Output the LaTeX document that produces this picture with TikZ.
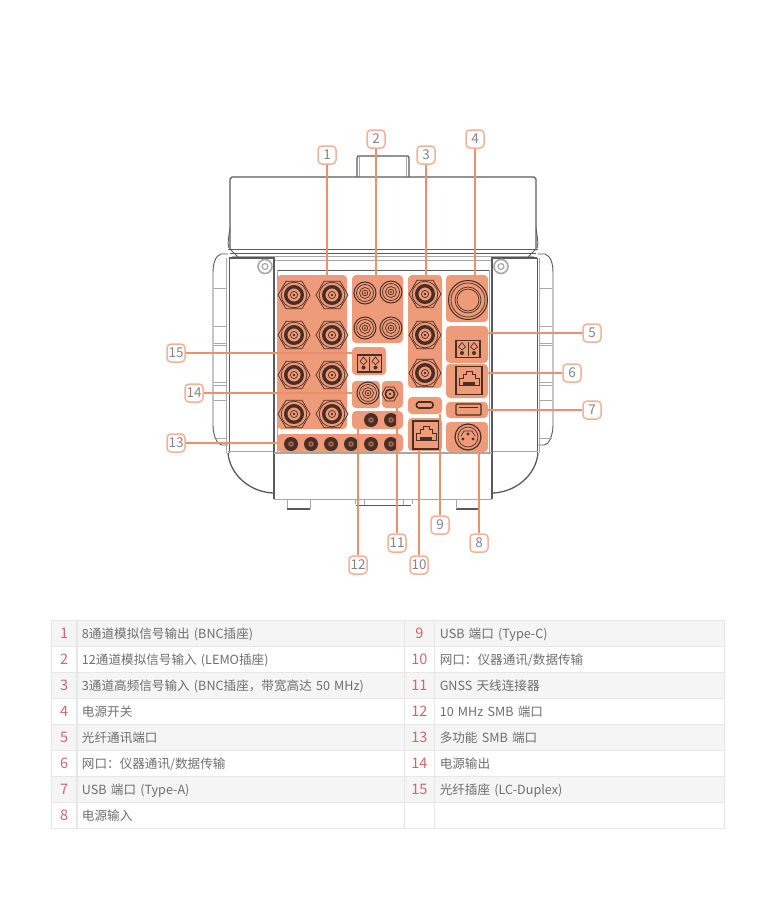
\documentclass[tikz,border=0pt]{standalone}
\usepackage{fontspec}
\setmainfont{Noto Sans CJK SC}
\usetikzlibrary{matrix}

\definecolor{blockfill}{HTML}{EE9B7A}
\definecolor{leadline}{HTML}{EC8F6B}
\definecolor{calloutline}{HTML}{F2B295}
\definecolor{portdark}{HTML}{4A2E25}
\definecolor{bodyline}{HTML}{5A5A5A}
\definecolor{softline}{HTML}{A8A8A8}
\definecolor{rowgray}{HTML}{F5F5F5}
\definecolor{tableline}{HTML}{E6E6E6}
\definecolor{tabletext}{HTML}{6E6E6E}
\definecolor{numred}{HTML}{CC6670}

\tikzset{
  block/.style={fill=blockfill, rounded corners=4pt, inner sep=0pt},
  lead/.style={draw=leadline, line width=1.2pt},
  callout/.style={draw=calloutline, line width=1.5pt, fill=white, rounded corners=4pt, minimum size=18pt, inner sep=0pt, text=tabletext!85, font=\fontsize{13.5}{14}\selectfont},
  body/.style={draw=bodyline, line width=0.9pt},
  bodythick/.style={draw=bodyline, line width=1.3pt},
  soft/.style={draw=softline, line width=0.8pt},
  port/.style={draw=portdark, line width=0.7pt},
  bnc/.pic={
    \draw[port] (16,0) -- (8,-13.8) -- (-8,-13.8) -- (-16,0) -- (-8,13.8) -- (8,13.8) -- cycle;
    \draw[port] (0,0) circle (12.8);
    \draw[port, line width=3.4pt] (0,0) circle (8.3);
    \draw[port] (0,0) circle (3.6);
    \fill[portdark] (0,0) circle (1.4);
  },
  lemo/.pic={
    \draw[port, line width=1pt] (0,0) circle (11);
    \draw[port] (0,0) circle (8.5);
    \draw[port] (0,0) circle (5.5);
    \draw[port] (0,0) circle (2.8);
    \fill[portdark] (0,0) circle (1);
  },
  smb/.pic={
    \fill[portdark] (0,0) circle (7);
    \fill[blockfill!55!portdark] (0,0) circle (2.8);
    \fill[portdark] (0,0) circle (1.2);
  },
  lcplug/.pic={
    \draw[port, line width=1.2pt] (-12,-8.5) rectangle (12,8.5);
    \draw[port] (-6,-6.5) -- (-9.5,-2) -- (-6,1) -- (-2.5,-2) -- cycle;
    \draw[port] (6,-6.5) -- (9.5,-2) -- (6,1) -- (2.5,-2) -- cycle;
    \draw[port] (0,-7) -- (0,7);
    \fill[portdark] (-6,4) circle (2) (6,4) circle (2);
  },
  rjplug/.pic={
    \draw[port, line width=1.1pt] (-13,-14) rectangle (13,14);
    \draw[port] (-10,5) -- (-10,-2) -- (-6,-2) -- (-6,-6) -- (-3,-6) -- (-3,-9) -- (3,-9) -- (3,-6) -- (6,-6) -- (6,-2) -- (10,-2) -- (10,5) -- cycle;
    \fill[portdark] (-6,1.5) rectangle (6,5);
  },
  flank/.pic={
    % side handle
    \draw[body] (228,254) -- (221,254) .. controls (215,256) and (213,264) .. (213,273) -- (213,425) .. controls (213,435) and (217,445) .. (222,445) -- (228,445);
    \foreach \ty in {288,326,343,345,382,385,400,438}
      \draw[soft] (214,\ty) -- (227,\ty);
    % body side and corner
    \draw[body] (229,258) -- (229,453);
    \draw[soft] (226.5,258) -- (226.5,453);
    \draw[soft] (228,451.5) -- (273,451.5);
    \draw[bodythick] (228,453) .. controls (230,475) and (250,492) .. (273,493);
    \draw[bodythick] (229,258) -- (274,258) -- (274,499);
    \draw[soft] (277,270) -- (277,453);
    % lid corner
    \draw[body] (230,249) -- (238,257);
    \draw[body] (229,248) .. controls (227,243) and (229,236) .. (230,228);
    % screw
    \draw[draw=softline, line width=1.6pt, fill=white] (265,266.5) circle (7);
    \draw[draw=softline, line width=1.2pt] (265,266.5) circle (3);
    % foot
    \draw[soft] (287,499) -- (287,509);
    \draw[bodythick] (287,509) -- (310,509);
    \draw[soft] (310,499) -- (310,509);
  },
}

\begin{document}
\begin{tikzpicture}[x=1pt,y=-1pt,
  array/.style={matrix of nodes, inner sep=0pt, nodes in empty cells, column sep=-\pgflinewidth, row sep=-\pgflinewidth,
    nodes={draw=tableline, line width=0.8pt, minimum height=25.6pt, text height=10pt, text depth=0pt, inner ysep=0pt, text=tabletext, font=\fontsize{12.6}{14}\selectfont},
    column 1/.style={nodes={minimum width=25pt, inner xsep=0pt, text=numred, font=\fontsize{14.5}{15}\selectfont}},
    column 2/.style={nodes={text width=317pt, inner xsep=5pt, align=left}},
    column 3/.style={nodes={minimum width=30pt, inner xsep=0pt, text=numred, font=\fontsize{14.5}{15}\selectfont}},
    column 4/.style={nodes={text width=280pt, inner xsep=5pt, align=left}},
    row 1/.style={nodes={fill=rowgray}},
    row 3/.style={nodes={fill=rowgray}},
    row 5/.style={nodes={fill=rowgray}},
    row 7/.style={nodes={fill=rowgray}},
}]
\useasboundingbox (0,0) rectangle (775,900);

% instrument body
\draw[bodythick] (357,177) -- (357,158) -- (358,156) -- (408,156) -- (409,158) -- (409,177);
\draw[soft] (359.5,157) -- (359.5,177) (406.5,157) -- (406.5,177);
\draw[bodythick] (230,249) -- (230,179) -- (232,177) -- (534,177) -- (536,179) -- (536,249);
\draw[body] (228,249) -- (538,249);
\draw[body] (230,253) -- (536,253);
\draw[soft] (232,256) -- (534,256);
\draw[soft] (274,260.5) -- (492,260.5);
\draw[body] (277,270) -- (489,270);
\pic at (0,0) {flank};
\pic[xscale=-1] at (766,0) {flank};
\draw[soft, line width=1.4pt] (274,453) -- (492,453);
\draw[soft] (274,499) -- (492,499);
\draw[soft] (355,499) -- (355,504) (412,499) -- (412,504);
\draw[bodythick] (356,505.5) -- (411,505.5);
\draw[soft] (364,499) -- (364,505) (403,499) -- (403,505);

% orange groups
\node[block, minimum width=70pt, minimum height=154pt] (b1) at (312,352) {};
\node[block, minimum width=51pt, minimum height=68pt] (b2) at (377.5,309) {};
\node[block, minimum width=34pt, minimum height=113pt] (b3) at (425,331.5) {};
\node[block, minimum width=42pt, minimum height=47pt] (b4) at (467,298.5) {};
\node[block, minimum width=42pt, minimum height=37pt] (b5) at (467,344.5) {};
\node[block, minimum width=42pt, minimum height=34pt] (b6) at (467,381) {};
\node[block, minimum width=42pt, minimum height=16pt] (b7) at (467,410) {};
\node[block, minimum width=42pt, minimum height=30pt] (b8) at (467,437) {};
\node[block, minimum width=34pt, minimum height=17pt] (b9) at (425,405.5) {};
\node[block, minimum width=34pt, minimum height=33pt] (b10) at (425,434.5) {};
\node[block, minimum width=21pt, minimum height=27pt] (b11) at (392.5,394.5) {};
\node[block, minimum width=51pt, minimum height=18pt] (b12) at (377.5,420) {};
\node[block, minimum width=126pt, minimum height=18pt] (b13) at (340,443) {};
\node[block, minimum width=28pt, minimum height=27pt] (b14) at (366,394.5) {};
\node[block, minimum width=34pt, minimum height=28pt] (b15) at (369,361) {};

% ports
\foreach \px in {294,332}
  \foreach \py in {295,335,375,414}
    \pic at (\px,\py) {bnc};
\foreach \py in {294,335,373}
  \pic at (425,\py) {bnc};
\foreach \px/\py in {365/293,391/292,365/328,391/328,368/393}
  \pic at (\px,\py) {lemo};
\foreach \px in {291,311,331,351,371,391}
  \pic at (\px,444) {smb};
\pic at (371,420) {smb};
\pic at (391,420) {smb};
% 11 top connector
\draw[port] (398,394) -- (394,387) -- (386,387) -- (382,394) -- (386,401) -- (394,401) -- cycle;
\draw[port, line width=1.6pt] (390,394) circle (4.6);
\fill[portdark] (390,394) circle (1.4);
% power switch
\draw[port, line width=1pt] (468,300) circle (19.5);
\draw[port] (468,300) circle (17);
\draw[port] (468,300) circle (13);
\draw[port] (468,300) circle (11);
\pic at (468,349) {lcplug};
\pic at (369.5,363.5) {lcplug};
\pic at (469,380.5) {rjplug};
\pic at (426,435) {rjplug};
% usb
\draw[port, line width=1.1pt, rounded corners=1pt] (456,404) rectangle (481,415);
\draw[port] (459,407.5) -- (478,407.5);
\draw[port, line width=1.6pt, rounded corners=2.5pt] (416.5,402) rectangle (433,408);
% power input
\draw[port, line width=1.2pt] (468,437) circle (13);
\draw[port] (468,437) circle (10);
\draw[port] (461,436) -- (464,431) -- (472,431) -- (475,436);
\fill[portdark] (463,439) circle (1.6) (473,439) circle (1.6) (468,434) circle (1.6);

% callouts
\foreach \num/\cx/\cy in {1/327/155,2/376/139,3/426/155,4/475/139,5/592/333,6/572/373,7/592/410,8/479/543,9/440/525,10/419/565,11/397/543,12/358/565,13/176/443,14/194/393,15/176/353}
  \node[callout] (n\num) at (\cx,\cy) {\num};

\draw[lead] (n1) -- (n1 |- b1.north);
\draw[lead] (n2) -- (n2 |- b2.north);
\draw[lead] (n3) -- (n3 |- b3.north);
\draw[lead] (n4) -- (n4 |- b4.north);
\draw[lead] (n5) -- (n5 -| b5.east);
\draw[lead] (n6) -- (n6 -| b6.east);
\draw[lead] (n7) -- (n7 -| b7.east);
\draw[lead] (n8) -- (n8 |- b8.south);
\draw[lead] (n9) -- (n9 |- b9.south);
\draw[lead] (n10) -- (n10 |- b10.south);
\draw[lead] (n11) -- (n11 |- b11.south);
\draw[lead] (n12) -- (n12 |- b12.south);
\draw[lead] (n13) -- (n13 -| b13.west);
\draw[lead] (n14) -- (n14 -| b14.west);
\draw[lead] (n15) -- (n15 -| b15.west);

% port table
\matrix[array, anchor=north west] (ports) at (51,620) {
 1 & 8通道模拟信号输出 (BNC插座) & 9 & USB 端口 (Type-C) \\
 2 & 12通道模拟信号输入 (LEMO插座) & 10 & 网口：仪器通讯/数据传输 \\
 3 & 3通道高频信号输入 (BNC插座，带宽高达 50 MHz) & 11 & GNSS 天线连接器 \\
 4 & 电源开关 & 12 & 10 MHz SMB 端口 \\
 5 & 光纤通讯端口 & 13 & 多功能 SMB 端口 \\
 6 & 网口：仪器通讯/数据传输 & 14 & 电源输出 \\
 7 & USB 端口 (Type-A) & 15 & 光纤插座 (LC-Duplex) \\
 8 & 电源输入 & & \\ };

\end{tikzpicture}
\end{document}
